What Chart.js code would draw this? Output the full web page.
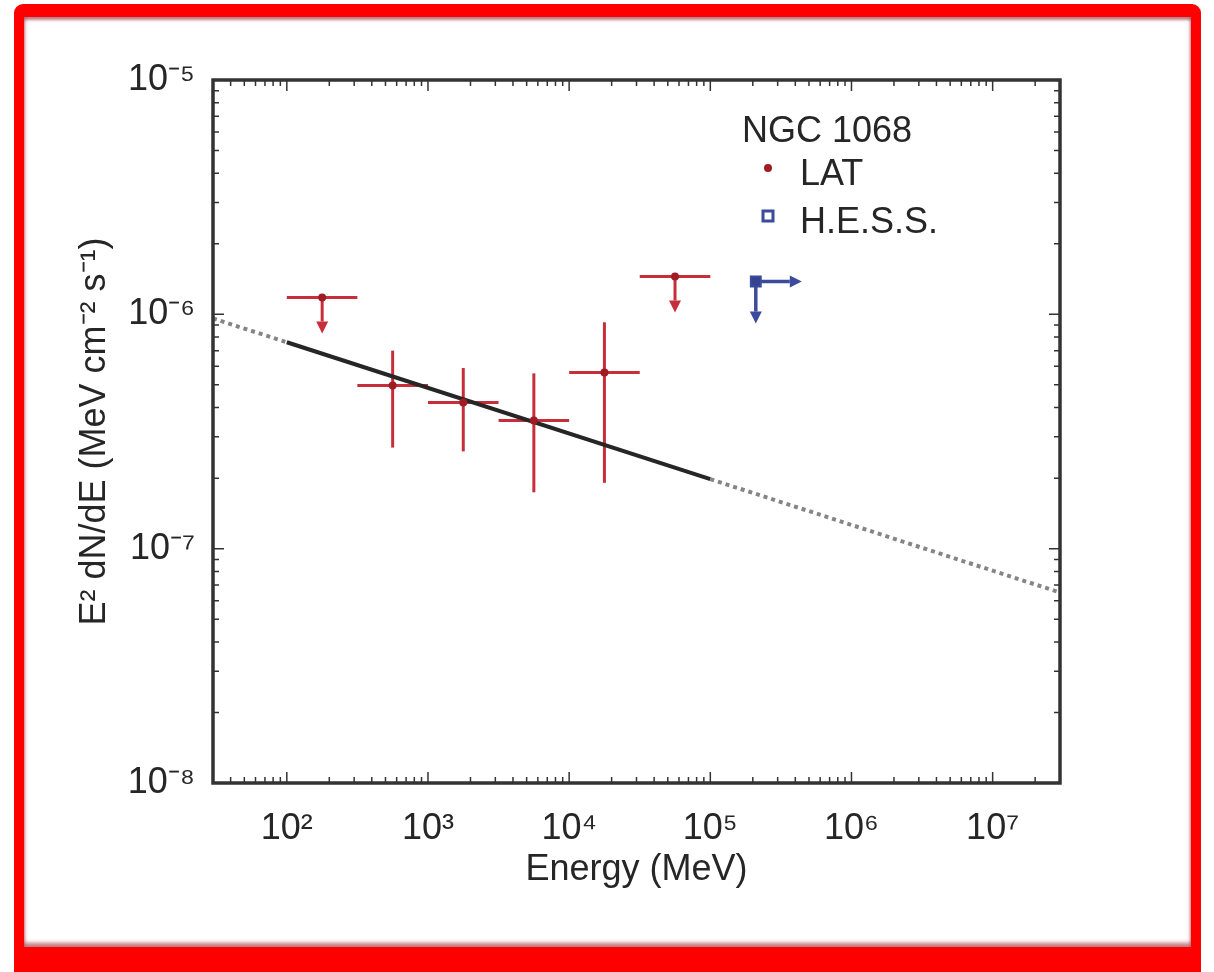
<!DOCTYPE html>
<html>
<head>
<meta charset="utf-8">
<script src="https://cdn.jsdelivr.net/npm/chart.js@4.4.1/dist/chart.umd.min.js"></script>
<style>
  html, body { margin: 0; padding: 0; background: #fff; }
  #wrap { position: relative; width: 1214px; height: 972px; overflow: hidden; background: #fff; }
  #c { position: absolute; left: 0; top: 0; }
  #frame {
    position: absolute; left: 14px; top: 4px;
    width: 1167px; height: 930px;
    border: 10px solid #ff0000; border-top-width: 13px; border-bottom-width: 40px;
    border-radius: 9px;
    box-shadow: inset 0 3px 3px rgba(130, 20, 30, 0.55), inset 0 -4px 4px rgba(150, 20, 30, 0.6);
    pointer-events: none;
  }
</style>
</head>
<body>
<div id="wrap">
  <canvas id="c" width="1214" height="972"></canvas>
  <div id="frame"></div>
</div>
<script>
// LAT bins (MeV) and E^2 dN/dE (MeV cm^-2 s^-1)
const latEnergy = [178, 562, 1778, 5623, 17783, 56234];
const latEnergyLo = [100, 316, 1000, 3162, 10000, 31623];
const latEnergyHi = [316, 1000, 3162, 10000, 31623, 100000];
const latFlux = [1.18e-6, 4.97e-7, 4.2e-7, 3.52e-7, 5.65e-7, 1.45e-6];
const latFluxLo = [null, 2.7e-7, 2.6e-7, 1.74e-7, 1.91e-7, null];
const latFluxHi = [null, 7.0e-7, 5.9e-7, 5.6e-7, 9.25e-7, null];
const latUpperLimit = [true, false, false, false, false, true];

// H.E.S.S. limit
const hessEnergy = [2.1e5];
const hessFlux = [1.38e-6];

// power law fit: dotted, solid (100 MeV - 100 GeV), dotted
const fitEnergy = [30, 100, 1e5, 3e7];
const fitFlux = [9.6e-7, 7.6e-7, 1.98e-7, 6.5e-8];

const xTickValues = [1e2, 1e3, 1e4, 1e5, 1e6, 1e7];
const xTickLabels = ['10²', '10³', '10⁴', '10⁵', '10⁶', '10⁷'];
const yTickValues = [1e-8, 1e-7, 1e-6, 1e-5];
const yTickLabels = ['10⁻⁸', '10⁻⁷', '10⁻⁶', '10⁻⁵'];

// pick a narrow sans if it is there, the figure text is tall and narrow
const probe = document.createElement('canvas').getContext('2d');
function probeWidth(font) { probe.font = font; return probe.measureText('Energy (MeV) NGC 1068').width; }
const hasNarrow = probeWidth('40px "Liberation Sans Narrow", monospace') !== probeWidth('40px monospace');
const family = hasNarrow ? '"Liberation Sans Narrow", "Liberation Sans", Arial, sans-serif' : '"Liberation Sans", Arial, sans-serif';
const fontSize = hasNarrow ? 43 : 36;
const textColor = '#262626';
const red = '#c62f3a';
const blue = '#3b4a9a';

function arrow(ctx, x0, y0, x1, y1, color) {
    const ang = Math.atan2(y1 - y0, x1 - x0);
    const head = 12;
    ctx.strokeStyle = color;
    ctx.fillStyle = color;
    ctx.beginPath();
    ctx.moveTo(x0, y0);
    ctx.lineTo(x1 - head * Math.cos(ang), y1 - head * Math.sin(ang));
    ctx.stroke();
    ctx.beginPath();
    ctx.moveTo(x1, y1);
    ctx.lineTo(x1 - head * Math.cos(ang) + 6 * Math.sin(ang), y1 - head * Math.sin(ang) - 6 * Math.cos(ang));
    ctx.lineTo(x1 - head * Math.cos(ang) - 6 * Math.sin(ang), y1 - head * Math.sin(ang) + 6 * Math.cos(ang));
    ctx.closePath();
    ctx.fill();
}

const errorBars = {
    id: 'errorBars',
    beforeDatasetsDraw(chart) {
        const ctx = chart.ctx;
        const x = chart.scales.x, y = chart.scales.y;
        ctx.save();
        ctx.lineWidth = 3;
        ctx.strokeStyle = red;
        latEnergy.forEach((e, i) => {
            const px = x.getPixelForValue(e);
            const py = y.getPixelForValue(latFlux[i]);
            ctx.beginPath();
            ctx.moveTo(x.getPixelForValue(latEnergyLo[i]), py);
            ctx.lineTo(x.getPixelForValue(latEnergyHi[i]), py);
            ctx.stroke();
            if (latUpperLimit[i]) {
                arrow(ctx, px, py, px, py + 36, red);
            } else {
                ctx.beginPath();
                ctx.moveTo(px, y.getPixelForValue(latFluxHi[i]));
                ctx.lineTo(px, y.getPixelForValue(latFluxLo[i]));
                ctx.stroke();
            }
        });
        ctx.lineWidth = 3.5;
        hessEnergy.forEach((e, i) => {
            const px = x.getPixelForValue(e);
            const py = y.getPixelForValue(hessFlux[i]);
            arrow(ctx, px, py, px + 46, py, blue);
            arrow(ctx, px, py, px, py + 42, blue);
        });
        ctx.restore();
    }
};

const frameTicks = {
    id: 'frameTicks',
    afterDraw(chart) {
        const ctx = chart.ctx;
        const a = chart.chartArea;
        const x = chart.scales.x, y = chart.scales.y;
        ctx.save();
        ctx.strokeStyle = '#333';
        ctx.lineWidth = 1.5;
        ctx.beginPath();
        for (let d = 1; d <= 7; d++) {
            for (let m = 1; m <= 9; m++) {
                const v = m * Math.pow(10, d);
                if (v < x.min || v > x.max) continue;
                const len = m === 1 ? 11 : 6;
                const px = x.getPixelForValue(v);
                ctx.moveTo(px, a.bottom); ctx.lineTo(px, a.bottom - len);
                ctx.moveTo(px, a.top); ctx.lineTo(px, a.top + len);
            }
        }
        for (let d = -8; d <= -6; d++) {
            for (let m = 1; m <= 9; m++) {
                const v = m * Math.pow(10, d);
                if (v < y.min * 0.999 || v > y.max * 1.001) continue;
                const len = m === 1 ? 11 : 6;
                const py = y.getPixelForValue(v);
                ctx.moveTo(a.left, py); ctx.lineTo(a.left + len, py);
                ctx.moveTo(a.right, py); ctx.lineTo(a.right - len, py);
            }
        }
        ctx.stroke();
        ctx.lineWidth = 3.5;
        ctx.strokeRect(a.left, a.top, a.right - a.left, a.bottom - a.top);

        // legend inside the plot
        ctx.fillStyle = textColor;
        ctx.font = fontSize + 'px ' + family;
        ctx.textBaseline = 'alphabetic';
        ctx.textAlign = 'left';
        ctx.fillText('NGC 1068', 742, 142);
        ctx.fillText('LAT', 800, 185);
        ctx.fillText('H.E.S.S.', 800, 233);
        ctx.fillStyle = '#a01c24';
        ctx.beginPath();
        ctx.arc(768, 168, 4, 0, Math.PI * 2);
        ctx.fill();
        ctx.strokeStyle = blue;
        ctx.lineWidth = 3;
        ctx.strokeRect(763, 211, 10, 10);
        ctx.restore();
    }
};

const tickFont = { family: family, size: fontSize };

new Chart(document.getElementById('c'), {
    type: 'scatter',
    data: {
        datasets: [
            {
                label: 'LAT',
                data: latEnergy.map((e, i) => ({ x: e, y: latFlux[i] })),
                pointRadius: 4,
                backgroundColor: '#a01c24',
                borderWidth: 0,
                order: 0
            },
            {
                label: 'H.E.S.S.',
                data: hessEnergy.map((e, i) => ({ x: e, y: hessFlux[i] })),
                pointStyle: 'rect',
                pointRadius: 7,
                backgroundColor: '#34438f',
                borderColor: blue,
                borderWidth: 2,
                order: 0
            },
            {
                label: 'fit',
                data: fitEnergy.map((e, i) => ({ x: e, y: fitFlux[i] })),
                showLine: true,
                pointRadius: 0,
                borderWidth: 4,
                borderColor: '#262626',
                borderDash: [],
                segment: {
                    borderColor: ctx => ctx.p0DataIndex === 1 ? '#262626' : '#858585',
                    borderDash: ctx => ctx.p0DataIndex === 1 ? [] : [4, 4]
                },
                order: 1
            }
        ]
    },
    options: {
        responsive: false,
        animation: false,
        layout: { padding: { left: 0, top: 80, right: 154, bottom: 0 } },
        plugins: { legend: { display: false }, tooltip: { enabled: false } },
        scales: {
            x: {
                type: 'logarithmic',
                min: 30,
                max: 3e7,
                afterBuildTicks: s => { s.ticks = xTickValues.map(v => ({ value: v })); },
                afterFit: s => { s.height = 189; },
                grid: { display: false },
                border: { display: false },
                ticks: {
                    callback: (v, i) => xTickLabels[i],
                    font: tickFont,
                    color: textColor,
                    padding: 16,
                    maxRotation: 0,
                    autoSkip: false
                },
                title: {
                    display: true,
                    text: 'Energy (MeV)',
                    font: tickFont,
                    color: textColor,
                    padding: { top: 0, bottom: 80 }
                }
            },
            y: {
                type: 'logarithmic',
                min: 1e-8,
                max: 1e-5,
                afterBuildTicks: s => { s.ticks = yTickValues.map(v => ({ value: v })); },
                afterFit: s => { s.width = 213; },
                grid: { display: false },
                border: { display: false },
                ticks: {
                    callback: (v, i) => yTickLabels[i],
                    font: tickFont,
                    color: textColor,
                    padding: 10,
                    autoSkip: false
                },
                title: {
                    display: true,
                    text: 'E² dN/dE (MeV cm⁻² s⁻¹)',
                    font: tickFont,
                    color: textColor,
                    padding: { top: 73, bottom: 0 }
                }
            }
        }
    },
    plugins: [errorBars, frameTicks]
});
</script>
</body>
</html>
